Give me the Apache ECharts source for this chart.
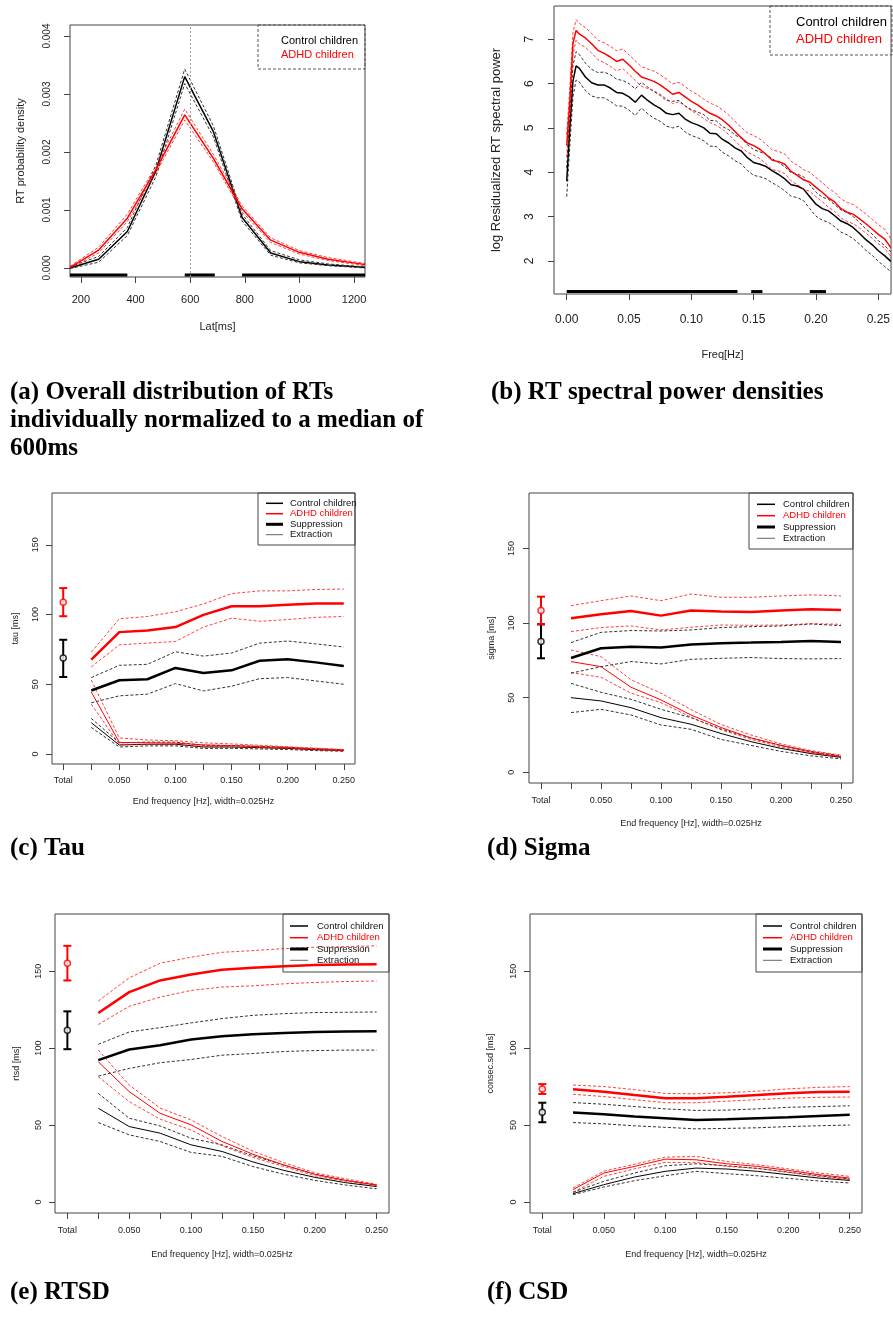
<!DOCTYPE html>
<html>
<head>
<meta charset="utf-8">
<script src="https://cdn.jsdelivr.net/npm/echarts@6/dist/echarts.min.js"></script>
<style>
  html, body { margin: 0; padding: 0; background: #fff; }
  #chart { width: 893px; height: 1318px; }
</style>
</head>
<body>
<div id="chart"></div>
<script>
// ---------- (a) RT distribution ----------
const latMs = [160, 265, 370, 475, 580, 685, 790, 895, 1000, 1105, 1210, 1240]
const distCtl = [0.0, 0.00015, 0.00063, 0.00168, 0.0033, 0.00235, 0.00087, 0.00026, 0.00011, 0.00005, 0.00002, 0.00001]
const distCtlHi = [0.00002, 0.0002, 0.0007, 0.00178, 0.00343, 0.00245, 0.00093, 0.0003, 0.00014, 0.00007, 0.00003, 0.00002]
const distCtlLo = [-0.00001, 0.0001, 0.00056, 0.00158, 0.00318, 0.00226, 0.00081, 0.00022, 0.00009, 0.00004, 0.00001, 0.0]
const distAdhd = [0.00001, 0.00031, 0.00086, 0.0017, 0.00264, 0.00189, 0.00102, 0.00048, 0.00027, 0.00015, 0.00008, 0.00006]
const distAdhdHi = [0.00003, 0.00036, 0.00093, 0.00176, 0.00274, 0.00196, 0.00107, 0.00052, 0.0003, 0.00018, 0.0001, 0.00008]
const distAdhdLo = [0.0, 0.00026, 0.0008, 0.00164, 0.00255, 0.00183, 0.00097, 0.00044, 0.00024, 0.00013, 0.00006, 0.00004]
const distSignif = [[160, 370], [580, 690], [790, 1240]]
const distSignifLevel = -0.00012
const latTicks = [200, 400, 600, 800, 1000, 1200]
const densTicks = [0, 0.001, 0.002, 0.003, 0.004]

// ---------- (b) spectral power ----------
const freqHz = [0, 0.0025, 0.005, 0.0075, 0.01, 0.015, 0.02, 0.025, 0.03, 0.035, 0.04, 0.045, 0.05, 0.055, 0.06, 0.065, 0.07, 0.075, 0.08, 0.085, 0.09, 0.095, 0.1, 0.105, 0.11, 0.115, 0.12, 0.125, 0.13, 0.135, 0.14, 0.145, 0.15, 0.155, 0.16, 0.165, 0.17, 0.175, 0.18, 0.185, 0.19, 0.195, 0.2, 0.205, 0.21, 0.215, 0.22, 0.225, 0.23, 0.235, 0.24, 0.245, 0.25, 0.255, 0.26]
const powCtl = [3.8, 5.0, 6.05, 6.4, 6.35, 6.15, 6.02, 5.97, 5.97, 5.9, 5.8, 5.78, 5.7, 5.58, 5.74, 5.62, 5.52, 5.44, 5.33, 5.3, 5.33, 5.2, 5.12, 5.07, 5.0, 4.88, 4.87, 4.74, 4.66, 4.55, 4.48, 4.33, 4.22, 4.18, 4.13, 4.03, 3.95, 3.85, 3.72, 3.69, 3.62, 3.45, 3.28, 3.18, 3.13, 3.02, 2.9, 2.84, 2.75, 2.62, 2.48, 2.37, 2.23, 2.12, 1.99]
const powCtlHi = [4.1, 5.4, 6.4, 6.72, 6.66, 6.46, 6.32, 6.25, 6.26, 6.2, 6.1, 6.07, 6.0, 5.88, 6.03, 5.92, 5.82, 5.73, 5.62, 5.6, 5.62, 5.5, 5.41, 5.36, 5.3, 5.17, 5.16, 5.03, 4.96, 4.84, 4.77, 4.62, 4.51, 4.46, 4.41, 4.3, 4.22, 4.12, 3.99, 3.96, 3.9, 3.72, 3.55, 3.44, 3.39, 3.27, 3.15, 3.09, 3.0, 2.86, 2.72, 2.61, 2.46, 2.35, 2.2]
const powCtlLo = [3.45, 4.6, 5.7, 6.08, 6.04, 5.84, 5.72, 5.68, 5.68, 5.6, 5.5, 5.49, 5.4, 5.28, 5.45, 5.32, 5.22, 5.15, 5.04, 5.0, 5.04, 4.91, 4.83, 4.78, 4.71, 4.59, 4.58, 4.45, 4.37, 4.26, 4.19, 4.04, 3.93, 3.9, 3.85, 3.76, 3.68, 3.58, 3.46, 3.43, 3.36, 3.18, 3.01, 2.92, 2.87, 2.77, 2.65, 2.59, 2.5, 2.38, 2.24, 2.13, 1.99, 1.88, 1.76]
const powAdhd = [4.6, 5.6, 6.9, 7.2, 7.12, 7.03, 6.9, 6.75, 6.68, 6.6, 6.5, 6.55, 6.42, 6.28, 6.15, 6.1, 6.05, 5.97, 5.87, 5.76, 5.8, 5.7, 5.6, 5.52, 5.42, 5.33, 5.27, 5.18, 5.06, 4.92, 4.78, 4.66, 4.6, 4.52, 4.4, 4.27, 4.24, 4.18, 4.02, 3.93, 3.83, 3.78, 3.66, 3.55, 3.42, 3.33, 3.18, 3.1, 3.05, 2.95, 2.84, 2.72, 2.6, 2.5, 2.3]
const powAdhdHi = [4.85, 5.9, 7.15, 7.44, 7.36, 7.26, 7.13, 6.98, 6.92, 6.84, 6.74, 6.78, 6.65, 6.51, 6.38, 6.33, 6.28, 6.2, 6.1, 5.99, 6.03, 5.93, 5.83, 5.75, 5.65, 5.56, 5.5, 5.41, 5.29, 5.15, 5.01, 4.89, 4.83, 4.75, 4.63, 4.5, 4.47, 4.41, 4.25, 4.16, 4.06, 4.0, 3.88, 3.77, 3.64, 3.55, 3.4, 3.32, 3.27, 3.17, 3.06, 2.94, 2.82, 2.72, 2.5]
const powAdhdLo = [4.35, 5.3, 6.65, 6.98, 6.9, 6.82, 6.69, 6.54, 6.47, 6.39, 6.29, 6.34, 6.21, 6.07, 5.94, 5.89, 5.84, 5.76, 5.66, 5.55, 5.59, 5.49, 5.39, 5.31, 5.21, 5.12, 5.06, 4.97, 4.85, 4.71, 4.57, 4.45, 4.39, 4.31, 4.19, 4.06, 4.03, 3.97, 3.81, 3.72, 3.62, 3.57, 3.45, 3.34, 3.21, 3.12, 2.97, 2.89, 2.84, 2.74, 2.63, 2.51, 2.39, 2.29, 2.1]
const powSignif = [[0, 0.137], [0.148, 0.157], [0.195, 0.208]]
const powSignifLevel = 1.31
const freqTicks = [0, 0.05, 0.1, 0.15, 0.2, 0.25]
const powTicks = [2, 3, 4, 5, 6, 7]

// ---------- (c)-(f) band-limited measures ----------
// x positions: 0 = Total, 1..10 = end frequency 0.025 .. 0.250 Hz
const endPos = [1, 2, 3, 4, 5, 6, 7, 8, 9, 10]
const totalPos = 0
const endTickPos = [0, 1, 2, 3, 4, 5, 6, 7, 8, 9, 10]
const endLabelPos = [0, 2, 4, 6, 8, 10]
const endLabels = ['Total', '0.050', '0.100', '0.150', '0.200', '0.250']
const msTicks = [0, 50, 100, 150]
const legendLabels = ['Control children', 'ADHD children', 'Suppression', 'Extraction']

// tau
const tauAdhdSup = [67.6, 87.4, 88.6, 91.0, 99.8, 106.0, 106.0, 107.0, 108.0, 108.0]
const tauAdhdSupHi = [73.0, 97.0, 98.6, 102.0, 107.6, 115.0, 117.0, 117.0, 118.0, 118.3]
const tauAdhdSupLo = [62.4, 78.3, 79.5, 80.7, 91.0, 97.4, 95.2, 96.4, 98.0, 98.6]
const tauCtlSup = [45.5, 52.9, 53.6, 61.7, 58.1, 60.0, 66.9, 67.9, 65.7, 63.1]
const tauCtlSupHi = [54.8, 63.6, 64.3, 73.3, 70.2, 72.4, 79.5, 81.0, 79.0, 76.7]
const tauCtlSupLo = [36.7, 41.7, 42.9, 50.5, 45.2, 48.6, 54.0, 54.8, 52.4, 50.0]
const tauAdhdExt = [44.5, 8.3, 8.0, 7.8, 6.5, 6.0, 5.2, 4.5, 3.5, 2.5]
const tauAdhdExtHi = [53.0, 11.5, 10.0, 9.5, 8.0, 7.2, 6.2, 5.2, 4.2, 3.2]
const tauAdhdExtLo = [35.7, 6.9, 6.8, 6.5, 5.5, 5.0, 4.5, 3.8, 3.0, 2.0]
const tauCtlExt = [22.4, 6.4, 7.0, 7.0, 5.0, 5.0, 4.5, 4.0, 3.0, 2.5]
const tauCtlExtHi = [25.5, 8.0, 8.5, 8.5, 6.2, 6.0, 5.5, 4.8, 3.8, 3.0]
const tauCtlExtLo = [19.0, 5.0, 5.8, 5.8, 4.0, 4.0, 3.6, 3.2, 2.4, 2.0]
const tauTotalAdhd = [98.8, 108.8, 119.0] // low, mean, high
const tauTotalCtl = [55.2, 68.8, 81.9]

// sigma
const sigAdhdSup = [103.2, 105.9, 108.1, 105.0, 108.4, 107.7, 107.5, 108.4, 109.2, 108.8]
const sigAdhdSupHi = [111.7, 115.0, 118.2, 115.0, 119.5, 117.3, 117.3, 118.2, 118.9, 118.2]
const sigAdhdSupLo = [94.3, 97.0, 98.1, 95.4, 97.2, 98.7, 98.5, 98.7, 99.6, 99.2]
const sigCtlSup = [76.6, 83.1, 84.2, 83.6, 85.6, 86.5, 86.9, 87.4, 88.0, 87.4]
const sigCtlSupHi = [86.9, 93.8, 95.0, 94.7, 95.4, 97.0, 97.6, 98.1, 99.4, 98.3]
const sigCtlSupLo = [66.4, 70.8, 74.2, 72.6, 75.7, 76.4, 76.9, 76.2, 76.0, 76.2]
const sigAdhdExt = [74.2, 70.8, 57.0, 48.5, 38.4, 30.0, 23.0, 18.0, 13.5, 10.5]
const sigAdhdExtHi = [82.0, 77.5, 62.0, 53.0, 42.0, 32.0, 25.0, 19.0, 14.5, 11.5]
const sigAdhdExtLo = [66.8, 63.7, 53.0, 46.7, 36.9, 28.5, 22.0, 17.0, 13.0, 10.0]
const sigCtlExt = [50.0, 47.8, 43.3, 36.6, 32.2, 26.0, 20.5, 16.0, 12.5, 10.0]
const sigCtlExtHi = [59.6, 53.6, 48.9, 42.2, 36.6, 29.0, 23.0, 18.0, 14.0, 11.0]
const sigCtlExtLo = [40.0, 42.2, 38.4, 31.7, 28.8, 22.0, 18.0, 14.0, 11.0, 9.0]
const sigTotalAdhd = [99.2, 108.4, 117.7]
const sigTotalCtl = [76.4, 87.6, 99.2]

// rtsd
const rtsdAdhdSup = [122.8, 136.4, 144.0, 147.9, 150.9, 152.2, 153.3, 154.1, 154.4, 154.6]
const rtsdAdhdSupHi = [130.6, 145.7, 155.2, 159.1, 162.3, 163.4, 164.7, 165.6, 166.0, 166.5]
const rtsdAdhdSupLo = [115.3, 127.2, 133.2, 137.5, 139.7, 140.5, 141.8, 142.7, 143.3, 143.6]
const rtsdCtlSup = [92.2, 99.1, 101.9, 105.6, 107.7, 109.0, 109.9, 110.5, 110.8, 111.0]
const rtsdCtlSupHi = [102.5, 110.5, 113.3, 116.4, 119.2, 121.3, 122.4, 123.1, 123.3, 123.5]
const rtsdCtlSupLo = [81.8, 86.8, 90.5, 92.6, 95.4, 96.5, 97.8, 98.4, 98.7, 98.7]
const rtsdAdhdExt = [91.1, 71.7, 57.6, 50.1, 39.3, 31.0, 24.0, 18.0, 14.0, 11.0]
const rtsdAdhdExtHi = [98.7, 76.0, 61.0, 53.3, 42.5, 33.0, 25.5, 19.0, 15.0, 11.5]
const rtsdAdhdExtLo = [81.4, 65.2, 53.8, 46.8, 36.5, 29.0, 23.0, 17.0, 13.5, 10.5]
const rtsdCtlExt = [60.9, 49.0, 44.7, 37.1, 32.8, 26.0, 20.5, 16.0, 12.5, 10.0]
const rtsdCtlExtHi = [70.6, 54.4, 49.4, 41.4, 37.1, 30.0, 24.0, 18.0, 14.0, 11.0]
const rtsdCtlExtLo = [51.6, 43.6, 39.3, 32.2, 29.6, 23.0, 18.0, 14.0, 11.0, 8.5]
const rtsdTotalAdhd = [144.0, 155.2, 166.5]
const rtsdTotalCtl = [99.3, 111.6, 123.9]

// csd
const csdAdhdSup = [73.2, 71.7, 69.5, 67.4, 67.4, 68.4, 69.5, 70.6, 71.5, 71.7]
const csdAdhdSupHi = [76.0, 75.0, 73.0, 70.5, 70.3, 71.0, 72.0, 73.5, 74.5, 75.0]
const csdAdhdSupLo = [70.0, 68.5, 66.5, 64.5, 64.5, 65.5, 66.5, 67.5, 68.0, 68.2]
const csdCtlSup = [58.1, 57.0, 55.5, 54.4, 53.3, 53.8, 54.4, 55.0, 55.9, 56.6]
const csdCtlSupHi = [64.6, 63.5, 62.0, 60.5, 59.5, 59.7, 60.5, 61.5, 62.0, 62.5]
const csdCtlSupLo = [51.6, 50.8, 49.5, 48.5, 47.5, 47.8, 48.2, 49.0, 49.5, 50.0]
const csdAdhdExt = [8.0, 18.8, 23.1, 27.8, 27.4, 24.8, 23.1, 20.5, 17.7, 15.5]
const csdAdhdExtHi = [9.0, 20.0, 24.5, 29.1, 29.6, 26.3, 24.2, 21.5, 18.8, 16.6]
const csdAdhdExtLo = [6.3, 16.6, 21.5, 25.7, 25.7, 23.1, 21.8, 19.2, 16.5, 14.5]
const csdCtlExt = [5.4, 11.2, 16.2, 19.9, 22.0, 21.4, 19.9, 17.7, 15.5, 14.0]
const csdCtlExtHi = [6.3, 13.4, 18.8, 23.5, 24.8, 23.5, 21.8, 19.4, 17.0, 14.9]
const csdCtlExtLo = [4.7, 9.7, 13.8, 17.0, 19.9, 18.4, 17.0, 15.3, 13.6, 12.3]
const csdTotalAdhd = [70.2, 73.4, 76.6]
const csdTotalCtl = [51.8, 58.3, 64.5]

const RED = '#ff0000'
const RED_BAND = 'rgba(255,0,0,0.75)'
const BLACK = '#000000'
const BLACK_BAND = '#333333'
const SANS = '"Liberation Sans", Arial, sans-serif'
const SERIF = '"Liberation Serif", "Times New Roman", serif'

var myChart = echarts.init(document.getElementById('chart'))

// 画一条线
function line (idx, xs, ys, color, width, dashed) {
  return {
    type: 'line',
    xAxisIndex: idx,
    yAxisIndex: idx,
    data: xs.map((x, i) => [x, ys[i]]),
    symbol: 'none',
    silent: true,
    lineStyle: { color: color, width: width, type: dashed ? [3, 2] : 'solid' }
  }
}

// 显著性横条
function signifBar (idx, segs, level) {
  return {
    type: 'custom',
    xAxisIndex: idx,
    yAxisIndex: idx,
    silent: true,
    data: segs.map(s => [s[0], s[1], level]),
    renderItem (params, api) {
      const a = api.coord([api.value(0), api.value(2)])
      const b = api.coord([api.value(1), api.value(2)])
      return { type: 'line', shape: { x1: a[0], y1: a[1], x2: b[0], y2: b[1] }, style: { stroke: BLACK, lineWidth: 3 } }
    }
  }
}

// Total 误差棒
function errBar (idx, t, color) {
  return [{
    type: 'custom',
    xAxisIndex: idx,
    yAxisIndex: idx,
    silent: true,
    data: [[totalPos, t[0], t[2]]],
    renderItem (params, api) {
      const lo = api.coord([api.value(0), api.value(1)])
      const hi = api.coord([api.value(0), api.value(2)])
      const w = 4
      const st = { stroke: color, lineWidth: 2 }
      return {
        type: 'group',
        children: [
          { type: 'line', shape: { x1: lo[0], y1: lo[1], x2: hi[0], y2: hi[1] }, style: st },
          { type: 'line', shape: { x1: lo[0] - w, y1: lo[1], x2: lo[0] + w, y2: lo[1] }, style: st },
          { type: 'line', shape: { x1: hi[0] - w, y1: hi[1], x2: hi[0] + w, y2: hi[1] }, style: st }
        ]
      }
    }
  }, {
    type: 'scatter',
    xAxisIndex: idx,
    yAxisIndex: idx,
    silent: true,
    z: 5,
    data: [[totalPos, t[1]]],
    symbol: 'circle',
    symbolSize: 6,
    itemStyle: { color: '#fff', borderColor: color, borderWidth: 1.5 }
  }]
}

function bandPanel (idx, d) {
  return [
    line(idx, endPos, d.ctlExtHi, BLACK_BAND, 1, true),
    line(idx, endPos, d.ctlExtLo, BLACK_BAND, 1, true),
    line(idx, endPos, d.ctlExt, BLACK, 1, false),
    line(idx, endPos, d.adhdExtHi, RED_BAND, 1, true),
    line(idx, endPos, d.adhdExtLo, RED_BAND, 1, true),
    line(idx, endPos, d.adhdExt, RED, 1, false),
    line(idx, endPos, d.ctlSupHi, BLACK_BAND, 1, true),
    line(idx, endPos, d.ctlSupLo, BLACK_BAND, 1, true),
    line(idx, endPos, d.ctlSup, BLACK, 2.5, false),
    line(idx, endPos, d.adhdSupHi, RED_BAND, 1, true),
    line(idx, endPos, d.adhdSupLo, RED_BAND, 1, true),
    line(idx, endPos, d.adhdSup, RED, 2.5, false)
  ].concat(errBar(idx, d.totalCtl, BLACK), errBar(idx, d.totalAdhd, RED))
}

const grids = [
  { left: 70, top: 25, width: 295, height: 252 },
  { left: 554, top: 6, width: 338, height: 288 },
  { left: 52, top: 493, width: 303, height: 271 },
  { left: 529, top: 493, width: 324, height: 290 },
  { left: 55, top: 914, width: 334, height: 299 },
  { left: 530, top: 914, width: 332, height: 299 }
].map(g => Object.assign({ show: true, borderColor: '#444', borderWidth: 1, backgroundColor: 'transparent' }, g))

const tickStyle = { show: true, length: 6, lineStyle: { color: '#444', width: 1 } }
const noLine = { show: false, onZero: false }

function endX (idx, margin, gap) {
  return {
    type: 'value',
    gridIndex: idx,
    min: -0.4,
    max: 10.4,
    axisLine: noLine,
    splitLine: { show: false },
    axisTick: Object.assign({ customValues: endTickPos }, tickStyle),
    axisLabel: {
      customValues: endLabelPos,
      formatter: v => endLabels[endLabelPos.indexOf(Math.round(v))],
      fontSize: 9, color: '#222', fontFamily: SANS, margin: margin
    },
    name: 'End frequency [Hz], width=0.025Hz',
    nameLocation: 'middle',
    nameGap: gap,
    nameTextStyle: { fontSize: 9, color: '#222', fontFamily: SANS }
  }
}

function msY (idx, name, margin, gap) {
  return {
    type: 'value',
    gridIndex: idx,
    min: -7.2,
    max: 187.2,
    axisLine: noLine,
    splitLine: { show: false },
    axisTick: Object.assign({ customValues: msTicks }, tickStyle),
    axisLabel: { customValues: msTicks, rotate: 90, fontSize: 9, color: '#222', fontFamily: SANS, margin: margin },
    name: name,
    nameLocation: 'middle',
    nameRotate: 90,
    nameGap: gap,
    nameTextStyle: { fontSize: 9, color: '#222', fontFamily: SANS }
  }
}

const xAxes = [
  {
    type: 'value', gridIndex: 0, min: 160, max: 1240,
    axisLine: noLine, splitLine: { show: false },
    axisTick: Object.assign({ customValues: latTicks }, tickStyle),
    axisLabel: { customValues: latTicks, formatter: v => String(v), fontSize: 11, color: '#222', fontFamily: SANS, margin: 17 },
    name: 'Lat[ms]', nameLocation: 'middle', nameGap: 44,
    nameTextStyle: { fontSize: 11, color: '#222', fontFamily: SANS }
  },
  {
    type: 'value', gridIndex: 1, min: -0.0102, max: 0.2602,
    axisLine: noLine, splitLine: { show: false },
    axisTick: Object.assign({ customValues: freqTicks }, tickStyle),
    axisLabel: { customValues: freqTicks, formatter: v => v.toFixed(2), fontSize: 12, color: '#222', fontFamily: SANS, margin: 20 },
    name: 'Freq[Hz]', nameLocation: 'middle', nameGap: 55,
    nameTextStyle: { fontSize: 11, color: '#222', fontFamily: SANS }
  },
  endX(2, 12, 33),
  endX(3, 13, 36),
  endX(4, 13, 37),
  endX(5, 13, 37)
]

const yAxes = [
  {
    type: 'value', gridIndex: 0, min: -0.000155, max: 0.00419,
    axisLine: noLine, splitLine: { show: false },
    axisTick: Object.assign({ customValues: densTicks }, tickStyle),
    axisLabel: { customValues: densTicks, formatter: v => v.toFixed(3), rotate: 90, fontSize: 10, color: '#222', fontFamily: SANS, margin: 18 },
    name: 'RT probability density', nameLocation: 'middle', nameRotate: 90, nameGap: 44,
    nameTextStyle: { fontSize: 11, color: '#222', fontFamily: SANS }
  },
  {
    type: 'value', gridIndex: 1, min: 1.255, max: 7.75,
    axisLine: noLine, splitLine: { show: false },
    axisTick: Object.assign({ customValues: powTicks }, tickStyle),
    axisLabel: { customValues: powTicks, rotate: 90, fontSize: 12, color: '#222', fontFamily: SANS, margin: 18 },
    name: 'log Residualized RT spectral power', nameLocation: 'middle', nameRotate: 90, nameGap: 51,
    nameTextStyle: { fontSize: 13, color: '#222', fontFamily: SANS }
  },
  msY(2, 'tau [ms]', 12, 32),
  msY(3, 'sigma [ms]', 13, 33),
  msY(4, 'rtsd [ms]', 12, 34),
  msY(5, 'consec.sd [ms]', 12, 35)
]

const distMid = line(0, latMs, distCtl, BLACK, 1.5, false)
distMid.markLine = {
  symbol: 'none', silent: true, label: { show: false },
  lineStyle: { color: '#999', type: [2, 2], width: 1 },
  data: [{ xAxis: 600 }]
}

const series = [
  distMid,
  line(0, latMs, distCtlHi, BLACK_BAND, 1, true),
  line(0, latMs, distCtlLo, BLACK_BAND, 1, true),
  line(0, latMs, distAdhd, RED, 1.5, false),
  line(0, latMs, distAdhdHi, RED_BAND, 1, true),
  line(0, latMs, distAdhdLo, RED_BAND, 1, true),
  signifBar(0, distSignif, distSignifLevel),
  line(1, freqHz, powCtlHi, BLACK_BAND, 1, true),
  line(1, freqHz, powCtlLo, BLACK_BAND, 1, true),
  line(1, freqHz, powCtl, BLACK, 1.5, false),
  line(1, freqHz, powAdhdHi, RED_BAND, 1, true),
  line(1, freqHz, powAdhdLo, RED_BAND, 1, true),
  line(1, freqHz, powAdhd, RED, 1.5, false),
  signifBar(1, powSignif, powSignifLevel)
].concat(
  bandPanel(2, { adhdSup: tauAdhdSup, adhdSupHi: tauAdhdSupHi, adhdSupLo: tauAdhdSupLo, ctlSup: tauCtlSup, ctlSupHi: tauCtlSupHi, ctlSupLo: tauCtlSupLo, adhdExt: tauAdhdExt, adhdExtHi: tauAdhdExtHi, adhdExtLo: tauAdhdExtLo, ctlExt: tauCtlExt, ctlExtHi: tauCtlExtHi, ctlExtLo: tauCtlExtLo, totalAdhd: tauTotalAdhd, totalCtl: tauTotalCtl }),
  bandPanel(3, { adhdSup: sigAdhdSup, adhdSupHi: sigAdhdSupHi, adhdSupLo: sigAdhdSupLo, ctlSup: sigCtlSup, ctlSupHi: sigCtlSupHi, ctlSupLo: sigCtlSupLo, adhdExt: sigAdhdExt, adhdExtHi: sigAdhdExtHi, adhdExtLo: sigAdhdExtLo, ctlExt: sigCtlExt, ctlExtHi: sigCtlExtHi, ctlExtLo: sigCtlExtLo, totalAdhd: sigTotalAdhd, totalCtl: sigTotalCtl }),
  bandPanel(4, { adhdSup: rtsdAdhdSup, adhdSupHi: rtsdAdhdSupHi, adhdSupLo: rtsdAdhdSupLo, ctlSup: rtsdCtlSup, ctlSupHi: rtsdCtlSupHi, ctlSupLo: rtsdCtlSupLo, adhdExt: rtsdAdhdExt, adhdExtHi: rtsdAdhdExtHi, adhdExtLo: rtsdAdhdExtLo, ctlExt: rtsdCtlExt, ctlExtHi: rtsdCtlExtHi, ctlExtLo: rtsdCtlExtLo, totalAdhd: rtsdTotalAdhd, totalCtl: rtsdTotalCtl }),
  bandPanel(5, { adhdSup: csdAdhdSup, adhdSupHi: csdAdhdSupHi, adhdSupLo: csdAdhdSupLo, ctlSup: csdCtlSup, ctlSupHi: csdCtlSupHi, ctlSupLo: csdCtlSupLo, adhdExt: csdAdhdExt, adhdExtHi: csdAdhdExtHi, adhdExtLo: csdAdhdExtLo, ctlExt: csdCtlExt, ctlExtHi: csdCtlExtHi, ctlExtLo: csdCtlExtLo, totalAdhd: csdTotalAdhd, totalCtl: csdTotalCtl })
)

// 图例 (R 风格)
function textEl (x, y, text, size, color, font) {
  return { type: 'text', x: x, y: y, z: 10, style: { text: text, fontSize: size, fontFamily: font || SANS, fill: color, align: 'left', verticalAlign: 'middle' } }
}
function simpleLegend (box, textX, rowsY, size) {
  return [
    { type: 'rect', z: 10, shape: box, style: { fill: 'none', stroke: '#555', lineWidth: 1, lineDash: [3, 2] } },
    textEl(textX, rowsY[0], legendLabels[0], size, BLACK),
    textEl(textX, rowsY[1], legendLabels[1], size, RED)
  ]
}
const legendSym = [
  { color: BLACK, width: 1.5 },
  { color: RED, width: 1.5 },
  { color: BLACK, width: 3 },
  { color: '#666', width: 1 }
]
function bandLegend (box, lineX1, lineX2, textX, rowsY) {
  const els = [{ type: 'rect', z: 10, shape: box, style: { fill: 'none', stroke: '#444', lineWidth: 1 } }]
  rowsY.forEach((y, i) => {
    els.push({ type: 'line', z: 10, shape: { x1: lineX1, y1: y, x2: lineX2, y2: y }, style: { stroke: legendSym[i].color, lineWidth: legendSym[i].width } })
    els.push(textEl(textX, y, legendLabels[i], 9.5, i === 1 ? RED : '#111'))
  })
  return els
}

function caption (x, y, text) {
  return { type: 'text', x: x, y: y, z: 10, style: { text: text, fontSize: 25, fontWeight: 'bold', fontFamily: SERIF, fill: '#000', align: 'left', verticalAlign: 'middle' } }
}

const graphics = [].concat(
  simpleLegend({ x: 258, y: 25, width: 107, height: 44 }, 281, [40.7, 55], 11),
  simpleLegend({ x: 770, y: 6, width: 122, height: 49 }, 796, [22.7, 39.3], 13),
  bandLegend({ x: 258, y: 493, width: 97, height: 52 }, 266, 283, 290, [503.3, 513.7, 524.3, 534.7]),
  bandLegend({ x: 749, y: 493, width: 104, height: 56 }, 757, 775, 783, [504.3, 515.7, 527, 538.3]),
  bandLegend({ x: 283, y: 914, width: 106, height: 58 }, 290, 308, 317, [926, 937.7, 949, 960.3]),
  bandLegend({ x: 756, y: 914, width: 106, height: 58 }, 763, 782, 790, [926, 937.7, 949, 960.3]),
  [
    caption(10, 393, '(a) Overall distribution of RTs'),
    caption(10, 421, 'individually normalized to a median of'),
    caption(10, 449, '600ms'),
    caption(491, 393, '(b) RT spectral power densities'),
    caption(10, 849, '(c) Tau'),
    caption(487, 849, '(d) Sigma'),
    caption(10, 1293, '(e) RTSD'),
    caption(487, 1293, '(f) CSD')
  ]
)

var option = {
  animation: false,
  backgroundColor: '#fff',
  grid: grids,
  xAxis: xAxes,
  yAxis: yAxes,
  series: series,
  graphic: graphics
}

myChart.setOption(option)
</script>
</body>
</html>
